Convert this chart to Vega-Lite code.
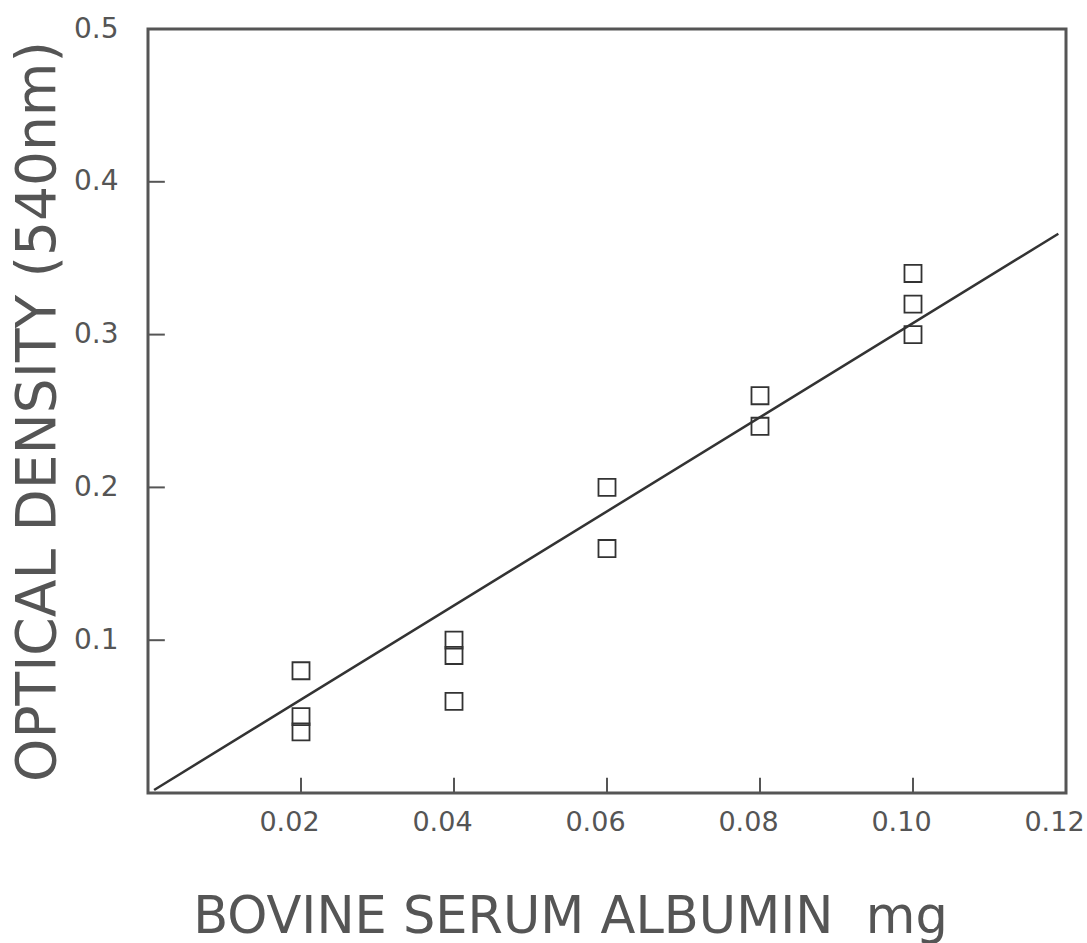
{
  "$schema": "https://vega.github.io/schema/vega-lite/v6.json",
  "width": 918,
  "height": 764,
  "autosize": "none",
  "padding": {"left": 148, "top": 29, "right": 21, "bottom": 150},
  "background": "white",
  "config": {
    "view": {"stroke": "#555", "strokeWidth": 3},
    "axis": {"grid": false, "domain": false, "ticks": false, "labelFont": "DejaVu Sans", "titleFont": "DejaVu Sans", "labelColor": "#555", "titleColor": "#555"}
  },
  "layer": [
    {
      "data": {"values": [
        {"mg": 0.02, "od": 0.08}, {"mg": 0.02, "od": 0.05}, {"mg": 0.02, "od": 0.04},
        {"mg": 0.04, "od": 0.10}, {"mg": 0.04, "od": 0.09}, {"mg": 0.04, "od": 0.06},
        {"mg": 0.06, "od": 0.20}, {"mg": 0.06, "od": 0.16},
        {"mg": 0.08, "od": 0.26}, {"mg": 0.08, "od": 0.24},
        {"mg": 0.10, "od": 0.34}, {"mg": 0.10, "od": 0.32}, {"mg": 0.10, "od": 0.30}
      ]},
      "mark": {"type": "point", "shape": "square", "filled": false, "size": 290, "stroke": "#333", "strokeWidth": 1.8, "opacity": 1},
      "encoding": {
        "x": {"field": "mg", "type": "quantitative",
          "scale": {"domain": [0, 0.12], "nice": false, "zero": true},
          "axis": {"values": [0.02, 0.04, 0.06, 0.08, 0.1, 0.12], "format": ".2f", "labelPadding": 16, "labelFontSize": 27, "labelOffset": -12, "labelBaseline": "top", "labelFlush": false,
            "title": "BOVINE SERUM ALBUMIN\u00a0 mg", "titleFontSize": 51, "titleFontWeight": "normal", "titleX": 422, "titleY": 139, "titleAlign": "center", "titleBaseline": "alphabetic"}},
        "y": {"field": "od", "type": "quantitative",
          "scale": {"domain": [0, 0.5], "nice": false},
          "axis": {"values": [0.1, 0.2, 0.3, 0.4, 0.5], "format": ".1f", "labelPadding": 30, "labelFontSize": 28, "labelFlush": false,
            "title": "OPTICAL DENSITY (540nm)", "titleFontSize": 55, "titleFontWeight": "normal", "titleAngle": -90, "titleX": -94, "titleY": 382, "titleAlign": "center", "titleBaseline": "alphabetic"}}
      }
    },
    {
      "data": {"values": [{"tick": 0.02}, {"tick": 0.04}, {"tick": 0.06}, {"tick": 0.08}, {"tick": 0.1}]},
      "mark": {"type": "rule", "stroke": "#555", "strokeWidth": 2},
      "encoding": {
        "x": {"field": "tick", "type": "quantitative"},
        "y": {"datum": 0},
        "y2": {"datum": 0.01}
      }
    },
    {
      "data": {"values": [{"tick": 0.1}, {"tick": 0.2}, {"tick": 0.3}, {"tick": 0.4}]},
      "mark": {"type": "rule", "stroke": "#555", "strokeWidth": 2},
      "encoding": {
        "y": {"field": "tick", "type": "quantitative"},
        "x": {"datum": 0},
        "x2": {"datum": 0.0022}
      }
    },
    {
      "data": {"values": [{"mg": 0.0008, "od": 0.002}, {"mg": 0.119, "od": 0.366}]},
      "mark": {"type": "line", "stroke": "#333", "strokeWidth": 2.5},
      "encoding": {
        "x": {"field": "mg", "type": "quantitative"},
        "y": {"field": "od", "type": "quantitative"}
      }
    }
  ]
}
